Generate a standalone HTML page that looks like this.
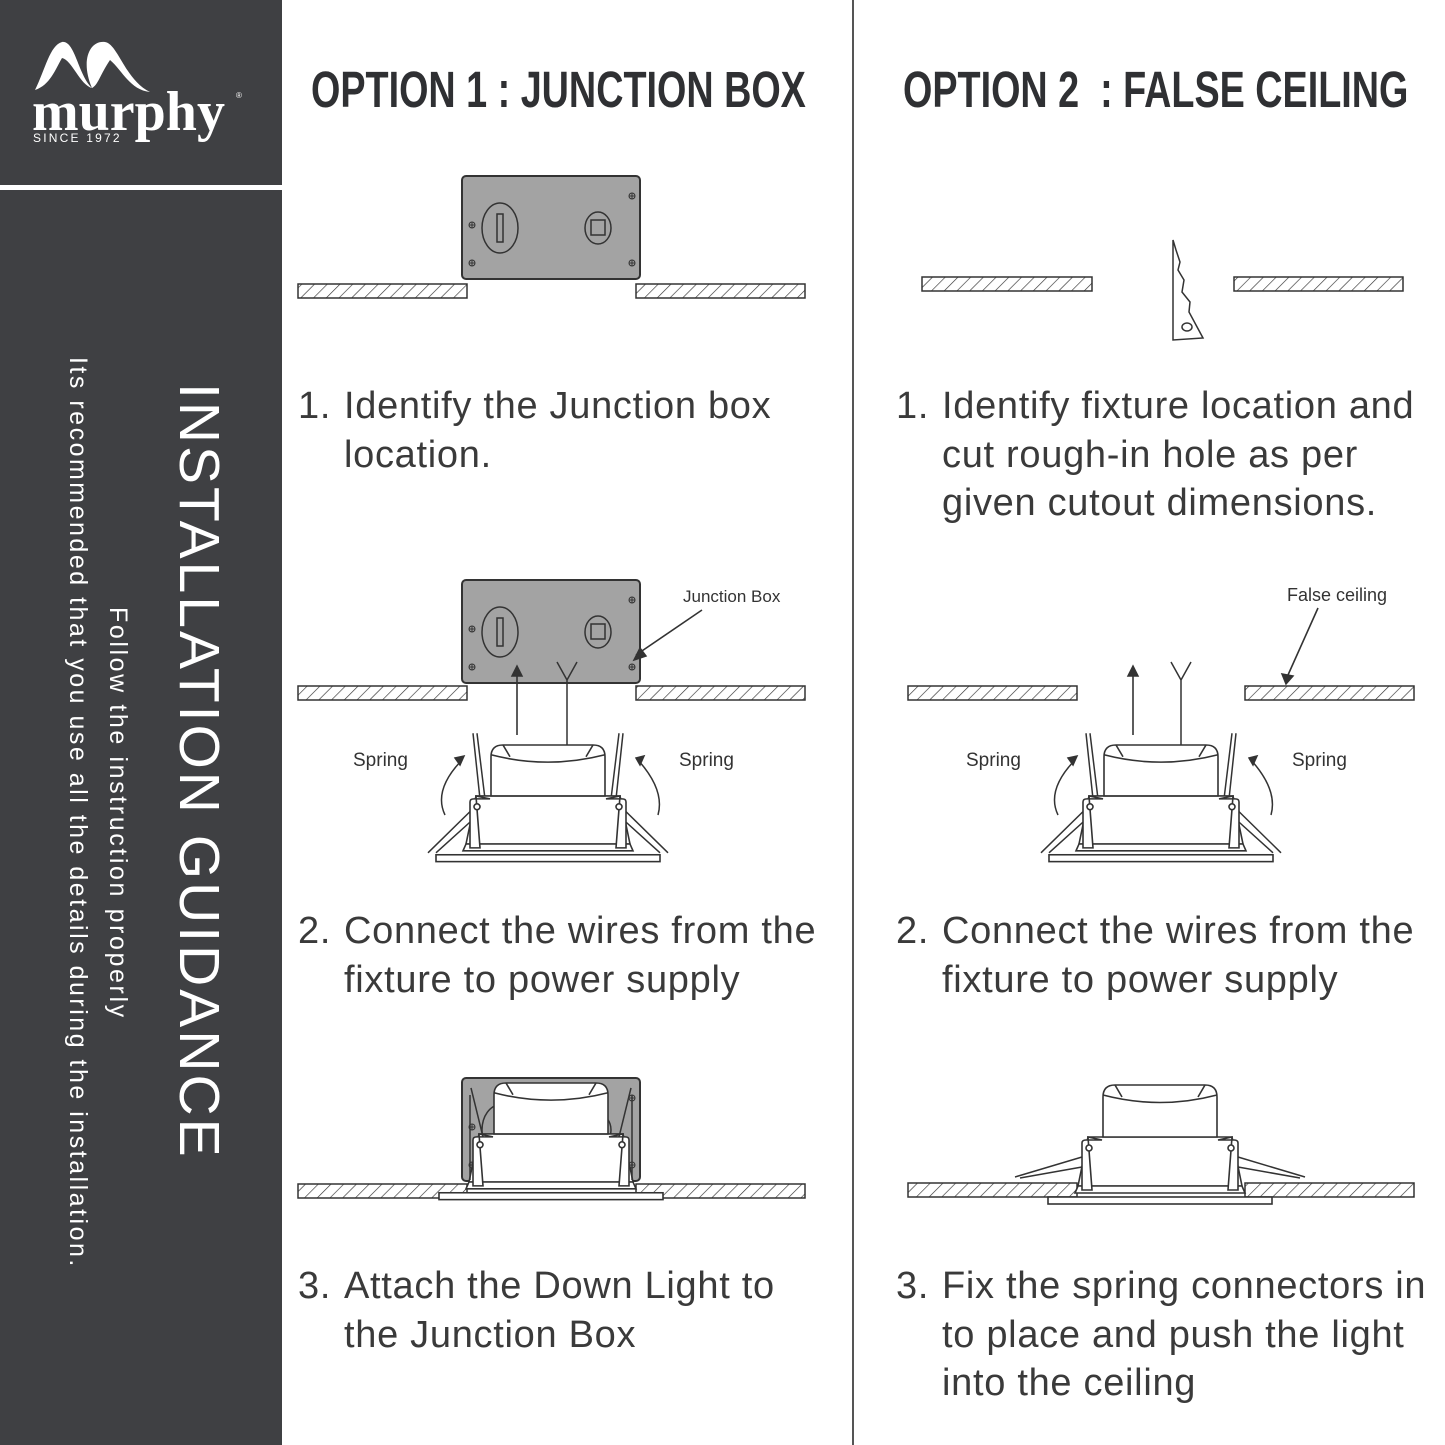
<!DOCTYPE html>
<html><head><meta charset="utf-8"><style>
body{margin:0;width:1445px;height:1445px;background:#fff;overflow:hidden;position:relative;font-family:"Liberation Sans",sans-serif}
.side{position:absolute;left:0;top:0;width:282px;height:1445px;background:#3f4043}
.band{position:absolute;left:0;top:185px;width:282px;height:5px;background:#fff}
.vt{position:absolute;color:#fff;white-space:nowrap;transform-origin:0 0;transform:rotate(90deg);font-weight:300}
.title{position:absolute;top:60px;font-family:"Liberation Sans",sans-serif;font-weight:bold;font-size:51px;color:#2f3033;white-space:nowrap;transform-origin:0 0;transform:scaleX(.74)}
.step{position:absolute;font-size:38px;color:#3a3a3a;line-height:48.5px;white-space:nowrap;letter-spacing:.7px}
.step span{display:inline-block;width:46px}
.step .i{padding-left:46px}
</style></head><body>
<div class="side"></div><div class="band"></div>
<svg style="position:absolute;left:0;top:0" width="282" height="185">
<path d="M35,90 C45,70 50,45 62,42 C75,40 78,75 92,88 C80,60 90,40 105,42 C118,44 125,80 150,92 C130,90 122,70 110,60 C100,75 98,85 92,88 C80,85 72,60 62,58 C55,70 50,85 35,90Z" fill="#fff"/>
<text x="32" y="130" fill="#fff" font-family="Liberation Serif,serif" font-weight="bold" font-size="56">murphy</text>
<text x="236" y="98" fill="#fff" font-size="8">®</text>
<text x="33" y="142" fill="#fff" font-size="12" letter-spacing="2.2">SINCE 1972</text>
</svg>
<div class="vt" style="left:232px;top:383px;font-size:57px;letter-spacing:3px">INSTALLATION GUIDANCE</div>
<div class="vt" style="left:132px;top:607px;font-size:25px;letter-spacing:2.6px">Follow the instruction properly</div>
<div class="vt" style="left:92px;top:357px;font-size:25px;letter-spacing:2.5px">Its recommended that you use all the details during the installation.</div>
<div style="position:absolute;left:852px;top:0;width:2px;height:1445px;background:#555"></div>
<div class="title" style="left:311px">OPTION 1 : JUNCTION BOX</div>
<div class="title" style="left:903px">OPTION 2&nbsp; : FALSE CEILING</div>
<div class="step" style="left:298px;top:382px"><span>1.</span>Identify the Junction box<br><div class="i">location.</div></div>
<div class="step" style="left:896px;top:382px"><span>1.</span>Identify fixture location and<br><div class="i">cut rough-in hole as per</div><div class="i">given cutout dimensions.</div></div>
<div class="step" style="left:298px;top:907px"><span>2.</span>Connect the wires from the<br><div class="i">fixture to power supply</div></div>
<div class="step" style="left:896px;top:907px"><span>2.</span>Connect the wires from the<br><div class="i">fixture to power supply</div></div>
<div class="step" style="left:298px;top:1262px"><span>3.</span>Attach the Down Light to<br><div class="i">the Junction Box</div></div>
<div class="step" style="left:896px;top:1262px"><span>3.</span>Fix the spring connectors in<br><div class="i">to place and push the light</div><div class="i">into the ceiling</div></div>
<svg style="position:absolute;left:0;top:0" width="1445" height="1445" fill="none" stroke="#333" stroke-width="1.5">
<defs>
<pattern id="h" width="9" height="9" patternUnits="userSpaceOnUse" patternTransform="rotate(45)"><line x1="0" y1="0" x2="0" y2="9" stroke="#333" stroke-width="1.3"/></pattern>
<g id="box">
<rect x="0" y="0" width="178" height="103" rx="4" fill="#a3a3a3" stroke="#333" stroke-width="2"/>
<ellipse cx="38" cy="52" rx="18" ry="25"/><rect x="35" y="38" width="6" height="28"/>
<ellipse cx="136" cy="52" rx="13" ry="16"/><rect x="129" y="44" width="14" height="15"/>
<g stroke-width="1"><circle cx="10" cy="49" r="3"/><circle cx="10" cy="87" r="3"/><circle cx="170" cy="20" r="3"/><circle cx="170" cy="87" r="3"/>
<path d="M7,49h6M10,46v6M7,87h6M10,84v6M167,20h6M170,17v6M167,87h6M170,84v6"/></g>
</g>
<g id="fx" fill="#fff" stroke="#333" stroke-width="1.6">
<rect x="-112" y="112" width="224" height="7"/>
<path d="M-82,101 L-72,52 L72,52 L82,101 Z"/>
<path d="M-85,108 L-82,101 L82,101 L85,108Z"/>
<path d="M-57,52 L-57,12 Q-57,0 -45,0 L45,0 Q57,0 57,12 L57,52Z"/>
<path d="M-57,10 Q0,25 57,10 M-45,0 L-38,12 M45,0 L38,12"/>
<path d="M-78,105 L-78,58 Q-78,55 -74,55 L-58,55 L-72,52 L-68,105Z" />
<path d="M78,105 L78,58 Q78,55 74,55 L58,55 L72,52 L68,105Z"/>
<circle cx="-71" cy="63" r="3"/><circle cx="71" cy="63" r="3"/>
</g>
<g id="spr2">
<path d="M-68,55 L-75,-12 M-63,55 L-71,-12 M-78,68 L-120,110 M-74,75 L-112,110"/>
<path d="M68,55 L75,-12 M63,55 L71,-12 M78,68 L120,110 M74,75 L112,110"/>
</g>
</defs>
<use href="#box" x="462" y="176"/>
<rect x="298" y="284" width="169" height="14" fill="url(#h)"/>
<rect x="636" y="284" width="169" height="14" fill="url(#h)"/>
<rect x="922" y="277" width="170" height="14" fill="url(#h)"/>
<rect x="1234" y="277" width="169" height="14" fill="url(#h)"/>
<path d="M1173,240 L1176,250 L1180,262 L1178,270 L1184,280 L1182,292 L1190,302 L1189,312 L1203,338 L1173,340 Z" fill="#fff"/>
<ellipse cx="1187" cy="327" rx="5" ry="4"/>
<use href="#box" x="462" y="580"/>
<rect x="298" y="686" width="169" height="14" fill="url(#h)"/>
<rect x="636" y="686" width="169" height="14" fill="url(#h)"/>
<g transform="translate(548,745) scale(1,0.98)"><use href="#spr2"/><use href="#fx"/></g>
<path d="M517,735 V672" stroke-width="1.6"/><path d="M512,676 L517,666 L522,676Z" fill="#333"/>
<path d="M567,745 V680 M567,680 L557,662 M567,680 L577,662"/>
<path d="M636,655 L702,610" stroke-width="1.6"/><path d="M634,660 L640,648 L646,656Z" fill="#333"/>
<path d="M445,815 Q433,790 462,760 M658,815 Q665,790 638,760"/>
<path d="M455,758 L464,756 L460,765Z M644,756 L636,758 L640,765Z" fill="#333"/>
<g font-family="Liberation Sans,sans-serif" fill="#333" stroke="none"><text x="353" y="766" font-size="19">Spring</text><text x="679" y="766" font-size="19">Spring</text><text x="683" y="602" font-size="17">Junction Box</text>
<text x="966" y="766" font-size="19">Spring</text><text x="1292" y="766" font-size="19">Spring</text><text x="1287" y="601" font-size="18">False ceiling</text></g>
<rect x="908" y="686" width="169" height="14" fill="url(#h)"/>
<rect x="1245" y="686" width="169" height="14" fill="url(#h)"/>
<g transform="translate(1161,745) scale(1,0.98)"><use href="#spr2"/><use href="#fx"/></g>
<path d="M1133,735 V672" stroke-width="1.6"/><path d="M1128,676 L1133,666 L1138,676Z" fill="#333"/>
<path d="M1181,745 V680 M1181,680 L1171,662 M1181,680 L1191,662"/>
<path d="M1318,608 L1288,675" stroke-width="1.6"/><path d="M1282,674 L1286,684 L1293,676Z" fill="#333"/>
<path d="M1058,815 Q1046,790 1075,760 M1271,815 Q1278,790 1251,760"/>
<path d="M1068,758 L1077,756 L1073,765Z M1257,756 L1249,758 L1253,765Z" fill="#333"/>
<use href="#box" x="462" y="1078"/>
<rect x="298" y="1184" width="169" height="14" fill="url(#h)"/>
<rect x="636" y="1184" width="169" height="14" fill="url(#h)"/>
<g transform="translate(551,1083) scale(1,0.98)"><use href="#fx"/><path d="M-68,55 L-80,5 M68,55 L80,5" /></g>
<path d="M470,1095 V1180 M632,1095 V1180" stroke="#333"/>
<rect x="908" y="1183" width="169" height="14" fill="url(#h)"/>
<rect x="1245" y="1183" width="169" height="14" fill="url(#h)"/>
<g transform="translate(1160,1085)"><use href="#fx"/>
<path d="M-78,72 L-145,92 M-78,82 L-140,93 M78,72 L145,92 M78,82 L140,93"/></g>
</svg>
</body></html>
